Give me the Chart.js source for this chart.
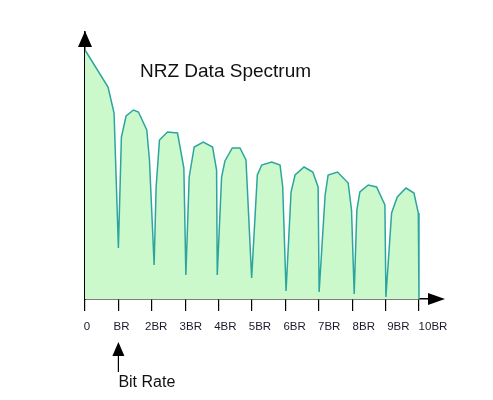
<!DOCTYPE html>
<html>
<head>
<meta charset="utf-8">
<title>NRZ Data Spectrum</title>
<script src="https://cdn.jsdelivr.net/npm/chart.js@4/dist/chart.umd.min.js"></script>
<style>
  body { margin: 0; background: #fff; }
  canvas { display: block; }
</style>
</head>
<body>
<canvas id="chart" width="493" height="400"></canvas>
<script>
// frequency in multiples of the bit rate, power in arbitrary units
const freq = [
    0, 0.69, 0.87, 1.00, 1.09, 1.23, 1.45, 1.60, 1.85, 1.93,
    2.07, 2.13, 2.23, 2.47, 2.77, 2.96, 3.02, 3.12, 3.27, 3.54,
    3.82, 3.94, 3.96, 4.09, 4.19, 4.41, 4.64, 4.82, 4.99, 5.16,
    5.29, 5.59, 5.84, 5.92, 6.02, 6.17, 6.29, 6.56, 6.82, 6.98,
    7.01, 7.19, 7.28, 7.56, 7.88, 7.98, 8.06, 8.14, 8.23, 8.48,
    8.73, 8.98, 9.01, 9.18, 9.35, 9.61, 9.85, 9.98, 10.0
];
const power = [
    249, 212, 186, 51, 162, 183, 189, 187, 169, 139,
    34, 112, 159, 167, 166, 131, 24, 122, 152, 157,
    152, 129, 24, 122, 138, 151, 151, 139, 21, 124,
    134, 137, 134, 112, 8, 107, 124, 132, 127, 112,
    7, 104, 124, 127, 116, 89, 5, 89, 107, 114,
    112, 94, 2, 86, 102, 111, 106, 86, 0
];
const tickValues = [0, 1, 2, 3, 4, 5, 6, 7, 8, 9, 10];
const tickLabels = ['0', 'BR', '2BR', '3BR', '4BR', '5BR', '6BR', '7BR', '8BR', '9BR', '10BR'];

const points = freq.map((f, i) => ({ x: f, y: power[i] }));

// arrows, tick labels, title and the "Bit Rate" marker
const decorations = {
    id: 'decorations',
    afterDraw(chart) {
        const { ctx, chartArea } = chart;
        const xs = chart.scales.x;
        const ys = chart.scales.y;
        const x0 = xs.getPixelForValue(0);
        const yb = ys.getPixelForValue(0);

        ctx.save();
        ctx.fillStyle = '#000';

        // y axis arrow head
        ctx.beginPath();
        ctx.moveTo(x0, chartArea.top - 1);
        ctx.lineTo(x0 - 7, chartArea.top + 15);
        ctx.lineTo(x0 + 7, chartArea.top + 15);
        ctx.closePath();
        ctx.fill();

        // x axis arrow head
        ctx.beginPath();
        ctx.moveTo(chartArea.right + 16, yb);
        ctx.lineTo(chartArea.right - 1, yb - 6);
        ctx.lineTo(chartArea.right - 1, yb + 6);
        ctx.closePath();
        ctx.fill();

        // tick labels (they drift a little right of their ticks in the original)
        ctx.fillStyle = '#1a1a2a';
        ctx.font = '11.5px "Liberation Sans", Arial, sans-serif';
        ctx.textAlign = 'center';
        ctx.textBaseline = 'middle';
        tickValues.forEach((v, i) => {
            ctx.fillText(tickLabels[i], xs.getPixelForValue(v) + 2 + 1.2 * v, yb + 28);
        });

        // title
        ctx.fillStyle = '#111';
        ctx.font = '19px "Liberation Sans", Arial, sans-serif';
        ctx.textAlign = 'left';
        ctx.fillText('NRZ Data Spectrum', 140, 72);

        // Bit Rate pointer
        const xb = xs.getPixelForValue(1);
        ctx.fillStyle = '#000';
        ctx.beginPath();
        ctx.moveTo(xb, yb + 43);
        ctx.lineTo(xb - 6, yb + 57);
        ctx.lineTo(xb + 6, yb + 57);
        ctx.closePath();
        ctx.fill();
        ctx.strokeStyle = '#000';
        ctx.lineWidth = 1.2;
        ctx.beginPath();
        ctx.moveTo(xb, yb + 56);
        ctx.lineTo(xb, yb + 73);
        ctx.stroke();

        ctx.fillStyle = '#111';
        ctx.font = '16px "Liberation Sans", Arial, sans-serif';
        ctx.fillText('Bit Rate', xb, yb + 84);
        ctx.restore();
    }
};

new Chart(document.getElementById('chart'), {
    type: 'line',
    data: {
        datasets: [{
            data: points,
            borderColor: 'rgb(45, 165, 158)',
            borderWidth: 1.5,
            backgroundColor: 'rgb(204, 249, 204)',
            fill: 'origin',
            pointRadius: 0,
            tension: 0
        }]
    },
    options: {
        responsive: false,
        animation: false,
        layout: {
            padding: { left: 85, right: 64, top: 32, bottom: 89 }
        },
        plugins: {
            legend: { display: false },
            tooltip: { enabled: false }
        },
        scales: {
            x: {
                type: 'linear',
                min: 0,
                max: 10.3,
                afterBuildTicks: (axis) => {
                    axis.ticks = tickValues.map(v => ({ value: v }));
                },
                ticks: { display: false },
                grid: {
                    display: true,
                    drawOnChartArea: false,
                    drawTicks: true,
                    tickLength: 12,
                    color: '#000',
                    lineWidth: 1.2
                },
                border: { display: true, color: '#000', width: 1.5 }
            },
            y: {
                min: 0,
                max: 267,
                ticks: { display: false },
                grid: {
                    display: true,
                    drawOnChartArea: false,
                    drawTicks: false
                },
                border: { display: true, color: '#000', width: 1.5 }
            }
        }
    },
    plugins: [decorations]
});
</script>
</body>
</html>
